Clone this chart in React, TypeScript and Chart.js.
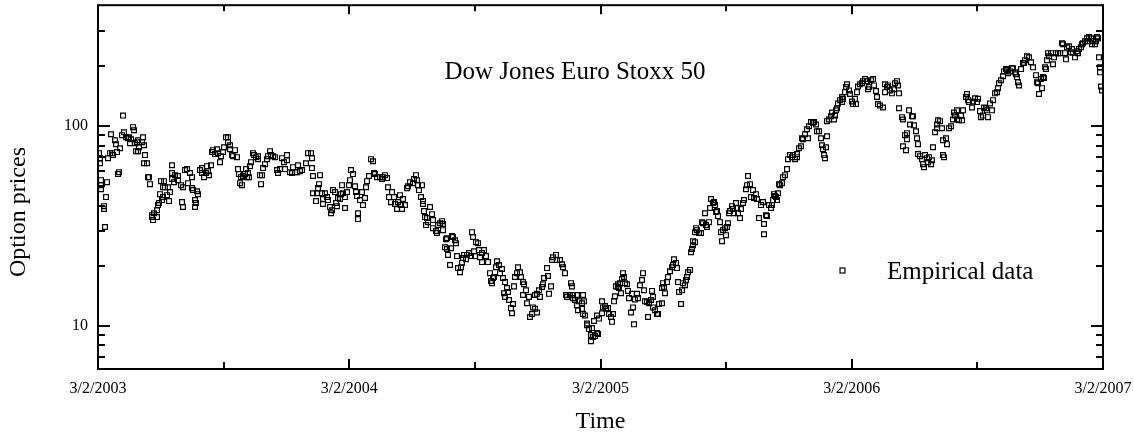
import React, { useEffect, useRef } from "react";
import { Chart, registerables } from "chart.js";

Chart.register(...registerables);

// x = trading day counted from 3/2/2003, y = option price
const days2003 = [
  1, 2, 2, 3, 3, 3, 6, 6, 7, 8,
  9, 10, 12, 13, 14, 15, 17, 18, 19, 20,
  21, 22, 24, 25, 26, 28, 30, 31, 32, 33,
  35, 36, 37, 38, 39, 40, 40, 41, 44, 45,
  46, 46, 47, 49, 50, 51, 52, 54, 54, 55,
  56, 59, 59, 60, 61, 62, 63, 64, 65, 65,
  66, 67, 69, 70, 71, 72, 74, 74, 74, 76,
  77, 80, 80, 83, 84, 85, 85, 87, 89, 90,
  92, 94, 94, 95, 97, 97, 98, 99, 100, 102,
  104, 104, 106, 108, 109, 110, 111, 113, 114, 115,
  117, 119, 120, 122, 123, 125, 126, 128, 130, 130,
  132, 132, 134, 135, 137, 139, 140, 141, 142, 143,
  144, 145, 147, 148, 149, 150, 151, 152, 153, 155,
  156, 158, 160, 160, 162, 163, 164, 165, 167, 169,
  170, 172, 173, 175, 177, 179, 180, 182, 184, 186,
  187, 189, 189, 192, 194, 195, 197, 199, 200, 202,
  204, 208, 210, 213, 214, 214, 215, 215, 218, 219,
  220, 221, 222, 224, 225, 225, 227, 229, 230, 232,
  233, 234, 235, 237, 238, 239, 240, 242, 243, 244,
  245, 247, 247, 249,
];
const prices2003 = [
  73.3, 69.2, 65.3, 53.7, 50.7, 48.4, 39.8, 38.5, 31.3, 44.2,
  52.5, 69.2, 73.3, 91.2, 73.3, 71.7, 85.1, 81.3, 74.2, 57.6,
  58.9, 77.6, 90.2, 113, 93.3, 88.1, 87.1, 88.1, 82.2, 86.1,
  98.9, 95.5, 82.2, 75.0, 83.2, 85.1, 75.0, 78.5, 83.2, 88.1,
  80.3, 65.3, 71.7, 65.3, 55.6, 55.6, 51.3, 35.9, 35.1, 33.9,
  36.7, 35.1, 38.0, 40.3, 41.3, 45.7, 53.1, 42.7, 44.2, 49.5,
  53.1, 49.5, 45.2, 49.5, 42.2, 46.8, 63.8, 58.3, 54.4, 52.5,
  56.9, 56.3, 53.7, 50.7, 41.7, 39.4, 49.5, 60.3, 61.0, 51.9,
  58.3, 55.6, 49.0, 47.9, 42.7, 39.4, 41.3, 47.3, 45.7, 60.3,
  61.7, 58.3, 55.6, 58.3, 63.1, 59.6, 56.9, 63.8, 74.2, 75.9,
  72.5, 76.7, 73.3, 66.1, 70.8, 74.2, 78.5, 88.1, 88.1, 83.2,
  80.3, 76.7, 71.7, 70.8, 75.9, 70.0, 61.0, 57.6, 51.9, 55.6,
  50.7, 56.3, 57.6, 61.0, 55.6, 58.3, 55.6, 63.1, 66.1, 73.3,
  71.7, 70.0, 70.8, 68.4, 56.9, 51.3, 56.9, 61.7, 64.6, 68.4,
  70.8, 75.0, 71.7, 70.8, 70.0, 60.3, 58.3, 61.0, 69.2, 66.1,
  61.0, 71.7, 67.6, 58.9, 58.3, 62.4, 58.9, 58.9, 63.8, 59.6,
  60.3, 65.3, 73.3, 73.3, 69.2, 61.7, 56.3, 46.2, 42.2, 46.2,
  49.0, 51.3, 56.9, 46.2, 43.2, 40.8, 46.2, 44.2, 42.7, 39.4,
  36.7, 38.0, 47.9, 46.8, 41.3, 39.8, 43.7, 43.2, 45.7, 50.7,
  46.2, 44.2, 39.0, 46.8,
];

const days2004 = [
  251, 252, 253, 255, 257, 258, 259, 260, 260, 262,
  264, 265, 267, 268, 269, 271, 273, 275, 276, 277,
  279, 282, 284, 285, 287, 289, 290, 291, 293, 294,
  296, 297, 299, 300, 302, 303, 304, 305, 307, 309,
  310, 312, 315, 316, 318, 319, 320, 321, 323, 324,
  325, 325, 326, 327, 328, 329, 330, 332, 334, 335,
  335, 338, 339, 340, 342, 344, 345, 345, 347, 348,
  349, 349, 350, 352, 353, 354, 355, 357, 358, 359,
  360, 362, 363, 364, 365, 366, 368, 369, 371, 373,
  374, 375, 376, 377, 378, 380, 381, 382, 384, 384,
  386, 388, 390, 392, 393, 394, 395, 396, 398, 399,
  401, 402, 404, 405, 406, 407, 407, 409, 410, 411,
  413, 414, 415, 416, 417, 419, 420, 422, 423, 425,
  425, 426, 428, 429, 431, 432, 434, 435, 437, 437,
  439, 439, 441, 442, 444, 445, 446, 449, 450, 451,
  453, 454, 455, 458, 459, 462, 464, 465, 467, 468,
  469, 472, 473, 474, 475, 475, 477, 479, 479, 480,
  481, 484, 484, 485, 485, 486, 487, 489, 489, 491,
  493, 493, 494, 495, 496, 497, 499, 499, 500, 501,
];
const prices2004 = [
  50.7, 53.7, 60.3, 57.6, 50.1, 46.8, 44.7, 36.7, 34.3, 42.7,
  46.8, 40.3, 43.7, 49.5, 53.1, 56.3, 68.4, 66.8, 58.3, 57.6,
  55.6, 55.6, 54.4, 55.6, 56.9, 55.0, 49.5, 44.2, 41.7, 46.8,
  44.2, 40.8, 38.5, 41.7, 45.2, 40.3, 38.5, 43.2, 40.3, 49.0,
  50.1, 52.5, 51.9, 54.4, 56.9, 53.7, 50.7, 47.9, 44.2, 50.7,
  42.2, 40.8, 37.6, 35.1, 32.0, 34.7, 33.1, 39.4, 36.3, 33.9,
  30.9, 29.9, 29.2, 32.0, 32.7, 33.5, 30.2, 32.4, 24.8, 27.2,
  27.5, 24.3, 22.7, 20.2, 24.5, 28.2, 27.9, 26.9, 26.0, 22.4,
  19.5, 18.6, 19.7, 20.7, 21.9, 22.7, 21.6, 22.7, 23.2, 22.4,
  29.5, 27.9, 23.7, 22.4, 26.3, 26.0, 24.0, 22.1, 20.9, 23.2,
  24.0, 22.4, 20.9, 18.4, 16.8, 16.4, 17.4, 17.6, 19.7, 21.1,
  20.2, 18.4, 19.3, 17.4, 14.6, 16.6, 14.0, 15.5, 14.8, 13.5,
  12.3, 11.6, 12.9, 15.8, 17.6, 18.4, 19.7, 18.6, 17.6, 16.6,
  14.3, 16.2, 15.1, 13.0, 14.0, 11.1, 11.5, 12.4, 12.2, 14.3,
  11.7, 14.5, 15.1, 14.0, 15.7, 16.2, 17.4, 19.5, 17.8, 14.5,
  15.8, 21.4, 22.1, 22.7, 21.4, 21.4, 20.4, 19.7, 18.4, 14.3,
  14.0, 14.3, 16.4, 15.8, 14.3, 13.8, 13.5, 14.3, 12.7, 12.0,
  13.3, 13.0, 12.2, 14.3, 11.5, 13.3, 11.3, 10.3, 10.1, 9.66,
  9.02, 8.41, 9.77, 8.81, 10.6, 8.91, 9.23, 11.3, 9.12, 10.9,
];

const days2005 = [
  504, 504, 505, 507, 508, 510, 511, 513, 514, 515,
  516, 517, 518, 520, 520, 521, 522, 523, 524, 525,
  526, 527, 529, 530, 531, 533, 534, 535, 536, 537,
  539, 540, 542, 544, 545, 546, 547, 549, 550, 551,
  553, 554, 555, 555, 557, 559, 560, 561, 564, 564,
  565, 566, 567, 569, 570, 572, 574, 575, 576, 578,
  579, 580, 581, 583, 584, 585, 587, 588, 589, 590,
  592, 593, 594, 595, 595, 597, 597, 598, 599, 601,
  603, 604, 605, 607, 608, 609, 611, 612, 613, 615,
  616, 617, 618, 619, 620, 622, 623, 624, 625, 627,
  628, 629, 630, 631, 632, 634, 635, 636, 638, 639,
  640, 642, 643, 645, 646, 648, 649, 650, 652, 653,
  655, 656, 658, 659, 661, 663, 665, 666, 666, 668,
  669, 671, 673, 674, 675, 676, 677, 678, 679, 680,
  681, 682, 684, 685, 687, 689, 690, 692, 694, 695,
  697, 699, 699, 701, 703, 704, 705, 707, 709, 710,
  711, 713, 715, 716, 718, 719, 721, 723, 724, 725,
  726, 727, 728, 729, 729, 731, 733, 734, 736, 737,
  738, 739, 740, 742, 744, 744, 745, 747, 748, 749,
  751, 752,
];
const prices2005 = [
  11.6, 13.3, 12.4, 12.6, 12.2, 12.3, 11.5, 11.1, 10.5, 11.5,
  13.3, 14.1, 15.8, 16.2, 15.7, 15.5, 16.4, 14.6, 17.2, 18.4,
  17.6, 16.4, 16.2, 15.0, 13.8, 11.7, 14.5, 12.4, 10.2, 13.6,
  14.5, 13.8, 16.0, 17.0, 18.4, 15.1, 13.3, 13.2, 11.1, 13.0,
  13.5, 15.0, 14.0, 12.4, 12.0, 11.5, 11.5, 12.9, 13.0, 15.5,
  16.4, 15.7, 14.6, 16.6, 17.6, 18.8, 19.7, 20.2, 21.6, 20.7,
  19.5, 16.6, 14.8, 12.9, 15.1, 16.4, 16.0, 17.0, 17.6, 18.6,
  19.1, 23.4, 24.3, 25.4, 26.6, 26.3, 29.5, 30.9, 30.2, 29.2,
  29.2, 33.1, 32.7, 36.7, 32.0, 31.3, 33.1, 39.0, 43.2, 41.3,
  41.7, 40.3, 37.2, 37.6, 35.5, 33.1, 29.5, 26.6, 30.2, 30.9,
  28.5, 31.3, 32.7, 36.7, 37.6, 39.8, 38.5, 36.7, 41.3, 39.0,
  36.7, 34.7, 38.5, 41.3, 42.7, 48.4, 50.7, 56.3, 51.3, 44.2,
  47.9, 43.7, 45.7, 43.2, 34.7, 40.3, 41.7, 32.4, 28.8, 35.9,
  35.5, 40.3, 39.0, 40.3, 42.7, 45.7, 44.7, 44.2, 42.7, 46.2,
  51.3, 50.7, 51.9, 55.6, 56.9, 61.0, 68.4, 71.7, 70.0, 71.7,
  68.4, 70.0, 72.5, 77.6, 79.4, 87.1, 86.1, 91.2, 96.6, 87.1,
  100, 105, 104, 105, 102, 94.4, 94.4, 87.1, 80.3, 76.7,
  71.7, 69.2, 78.5, 89.1, 106, 108, 112, 117, 108, 113,
  120, 123, 130, 135, 132, 140, 137, 148, 157, 162,
  151, 145,
];

const days2006 = [
  754, 755, 757, 758, 759, 760, 762, 764, 765, 767,
  769, 770, 771, 773, 775, 776, 778, 779, 780, 782,
  785, 787, 787, 789, 790, 792, 794, 796, 797, 799,
  800, 801, 801, 804, 805, 805, 807, 808, 809, 809,
  811, 812, 814, 815, 816, 818, 819, 820, 820, 822,
  824, 825, 826, 827, 829, 830, 831, 833, 834, 835,
  837, 839, 839, 840, 842, 844, 845, 845, 846, 848,
  849, 851, 853, 855, 856, 857, 859, 859, 861, 863,
  864, 865, 868, 869, 870, 871, 874, 875, 877, 879,
  880, 882, 883, 885, 886, 888, 889, 890, 892, 894,
  895, 897, 899, 900, 901, 903, 905, 906, 908, 909,
  910, 912, 914, 915, 917, 918, 919, 920, 921, 923,
  925, 926, 927, 929, 931, 933, 935, 938, 939, 940,
  941, 943, 944, 945, 946, 947, 948, 949, 950, 951,
  953, 955, 956, 958, 960, 962, 964, 965, 967, 968,
  969, 971, 973, 974, 975, 977, 979, 980, 981, 983,
  984, 985, 987, 989, 990, 991, 993, 994, 995, 997,
  998, 999, 1000, 1001, 1002, 1002, 1003, 1004,
];
const prices2006 = [
  133, 129, 137, 129, 148, 158, 162, 164, 168, 172,
  168, 153, 157, 170, 172, 160, 150, 140, 129, 127,
  124, 148, 162, 157, 160, 151, 146, 153, 164, 168,
  160, 146, 123, 111, 108, 79.4, 90.2, 75.9, 86.1, 92.3,
  120, 102, 112, 112, 101, 94.4, 87.1, 81.3, 72.5, 70.8,
  68.4, 64.6, 62.4, 71.7, 69.2, 66.1, 70.0, 64.6, 67.6, 78.5,
  93.3, 97.7, 102, 107, 106, 97.7, 85.1, 71.7, 70.0, 87.1,
  81.3, 97.7, 100, 108, 117, 113, 120, 108, 107, 113,
  107, 120, 140, 145, 135, 132, 124, 133, 138, 132,
  137, 119, 111, 113, 124, 123, 120, 111, 130, 120,
  135, 146, 148, 155, 164, 170, 178, 188, 193, 191,
  184, 188, 195, 195, 186, 182, 176, 166, 160, 193,
  207, 207, 214, 224, 221, 209, 197, 180, 166, 164,
  145, 172, 155, 176, 174, 197, 193, 214, 232, 224,
  232, 204, 221, 232, 232, 232, 260, 257, 232, 216,
  248, 251, 234, 243, 234, 221, 237, 232, 243, 248,
  257, 260, 266, 275, 266, 279, 275, 257, 266, 257,
  266, 279, 275, 221, 197, 186, 158, 151,
];

const yearTickDays = [0, 251.25, 502.5, 753.75, 1005];
const yearTickLabels = ["3/2/2003", "3/2/2004", "3/2/2005", "3/2/2006", "3/2/2007"];
const midYearDays = [125.6, 376.9, 628.1, 879.4];
const yMajorTicks = [10, 100];
const yMinorTicks = [7, 8, 9, 20, 30, 40, 50, 60, 70, 80, 90, 200, 300];

const chartTitle = "Dow Jones Euro Stoxx 50";
const seriesLabel = "Empirical data";
const xAxisTitle = "Time";
const yAxisTitle = "Option prices";

const FONT = '"Liberation Serif", "Times New Roman", serif';

const framePlugin = {
  id: "frameAndText",
  afterDraw(chart: any) {
    const { ctx, chartArea: a, scales } = chart;
    const x = scales.x;
    const y = scales.y;
    ctx.save();
    ctx.strokeStyle = "#000";
    ctx.lineWidth = 2;
    ctx.strokeRect(a.left, a.top, a.right - a.left, a.bottom - a.top);
    ctx.beginPath();
    yearTickDays.forEach((d) => {
      const px = Math.round(x.getPixelForValue(d));
      ctx.moveTo(px, a.bottom);
      ctx.lineTo(px, a.bottom - 10);
      ctx.moveTo(px, a.top);
      ctx.lineTo(px, a.top + 9);
    });
    midYearDays.forEach((d) => {
      const px = Math.round(x.getPixelForValue(d));
      ctx.moveTo(px, a.bottom);
      ctx.lineTo(px, a.bottom - 7);
      ctx.moveTo(px, a.top);
      ctx.lineTo(px, a.top + 6);
    });
    yMajorTicks.forEach((v) => {
      const py = Math.round(y.getPixelForValue(v));
      ctx.moveTo(a.left, py);
      ctx.lineTo(a.left + 12, py);
      ctx.moveTo(a.right, py);
      ctx.lineTo(a.right - 12, py);
    });
    yMinorTicks.forEach((v) => {
      const py = Math.round(y.getPixelForValue(v));
      ctx.moveTo(a.left, py);
      ctx.lineTo(a.left + 7, py);
      ctx.moveTo(a.right, py);
      ctx.lineTo(a.right - 7, py);
    });
    ctx.stroke();

    ctx.fillStyle = "#000";
    ctx.textBaseline = "alphabetic";
    ctx.font = `25px ${FONT}`;
    ctx.textAlign = "center";
    ctx.fillText(chartTitle, 575, 79);

    // legend
    ctx.lineWidth = 1.2;
    ctx.strokeRect(840, 268, 5, 5);
    ctx.textAlign = "left";
    ctx.fillText(seriesLabel, 887, 279);

    // axis titles
    ctx.font = `24px ${FONT}`;
    ctx.textAlign = "center";
    ctx.fillText(xAxisTitle, (a.left + a.right) / 2, 428);
    ctx.translate(25, 212);
    ctx.rotate(-Math.PI / 2);
    ctx.fillText(yAxisTitle, 0, 0);
    ctx.restore();
  },
};

export default function App() {
  const ref = useRef<HTMLCanvasElement>(null);

  useEffect(() => {
    const allDays = [...days2003, ...days2004, ...days2005, ...days2006];
    const allPrices = [...prices2003, ...prices2004, ...prices2005, ...prices2006];
    const points = allDays.map((d, i) => ({ x: d, y: allPrices[i] }));

    const chart = new Chart(ref.current as HTMLCanvasElement, {
      type: "scatter",
      data: {
        datasets: [
          {
            label: seriesLabel,
            data: points,
            pointStyle: "rect",
            pointRadius: 3.4,
            borderWidth: 1.2,
            borderColor: "#000",
            backgroundColor: "rgba(255,255,255,0)",
          },
        ],
      },
      options: {
        animation: false,
        responsive: false,
        devicePixelRatio: 1,
        events: [],
        layout: { padding: { top: 5, right: 31, left: 0, bottom: 0 } },
        plugins: {
          legend: { display: false },
          tooltip: { enabled: false },
          title: { display: false },
        },
        scales: {
          x: {
            type: "linear",
            min: 0,
            max: 1005,
            grid: { display: false, drawTicks: false, tickLength: 0 },
            border: { display: false },
            afterBuildTicks: (scale: any) => {
              scale.ticks = yearTickDays.map((v) => ({ value: v }));
            },
            afterFit: (scale: any) => {
              scale.height = 65;
              scale.paddingLeft = 0;
              scale.paddingRight = 0;
            },
            ticks: {
              autoSkip: false,
              maxRotation: 0,
              padding: 10,
              color: "#000",
              font: { family: FONT, size: 16 },
              callback: (_v: any, i: number) => yearTickLabels[i],
            },
          },
          y: {
            type: "logarithmic",
            min: 6.1,
            max: 403,
            grid: { display: false, drawTicks: false, tickLength: 0 },
            border: { display: false },
            afterBuildTicks: (scale: any) => {
              scale.ticks = yMajorTicks.map((v) => ({ value: v }));
            },
            afterFit: (scale: any) => {
              scale.width = 98;
              scale.paddingTop = 0;
              scale.paddingBottom = 0;
            },
            ticks: {
              padding: 10,
              color: "#000",
              font: { family: FONT, size: 16 },
              callback: (v: any) => String(v),
            },
          },
        },
      },
      plugins: [framePlugin],
    });
    return () => chart.destroy();
  }, []);

  return (
    <div
      style={{
        position: "fixed",
        left: 0,
        top: 0,
        width: 1134,
        height: 434,
        background: "#fff",
      }}
    >
      <canvas
        ref={ref}
        width={1134}
        height={434}
        style={{ display: "block", width: 1134, height: 434 }}
      />
    </div>
  );
}
